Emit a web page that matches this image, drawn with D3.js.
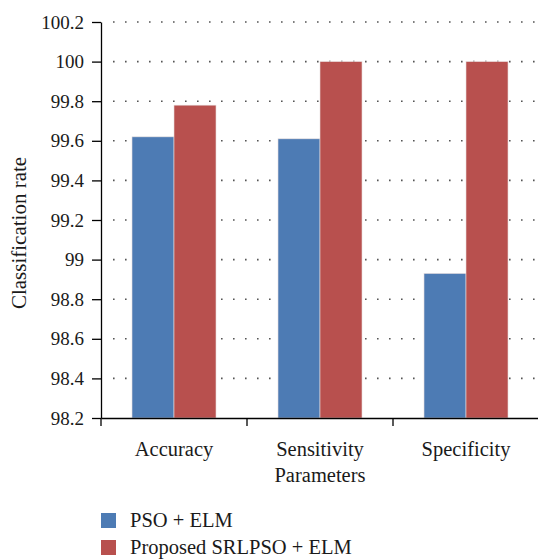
<!DOCTYPE html>
<html><head><meta charset="utf-8">
<script src="https://cdn.jsdelivr.net/npm/d3@7"></script>
<style>body{margin:0;background:#fff}svg{display:block} text{font-family:'Liberation Serif','Times New Roman',serif !important;}</style>
</head><body>
<script>
const categories = ["Accuracy", "Sensitivity", "Specificity"];
const seriesNames = ["PSO + ELM", "Proposed SRLPSO + ELM"];
const psoElm = [99.62, 99.61, 98.93];
const srlpsoElm = [99.78, 100, 100];
const yTicks = [98.2, 98.4, 98.6, 98.8, 99, 99.2, 99.4, 99.6, 99.8, 100, 100.2];
const colors = ["#4d7bb4", "#b8504e"];

const W = 538, H = 559;
const m = {left: 101, right: 0, top: 22, bottom: 141};
const svg = d3.select("body").append("svg").attr("width", W).attr("height", H);

const x = d3.scaleBand().domain(categories).range([m.left, m.left + 438]).paddingInner(0).paddingOuter(0);
const y = d3.scaleLinear().domain([98.2, 100.2]).range([H - m.bottom, m.top]);
const xs = d3.scaleBand().domain([0, 1]).range([0, x.bandwidth()]).paddingInner(0).paddingOuter(0.738);

// grid
svg.append("g").selectAll("line").data(yTicks.slice(1)).join("line")
  .attr("x1", m.left + 12).attr("x2", W).attr("y1", d => y(d)).attr("y2", d => y(d))
  .attr("stroke", "#555").attr("stroke-width", 1.6).attr("stroke-dasharray", "1.6,10.4");

// bars
const data = [psoElm, srlpsoElm];
data.forEach((vals, si) => {
  svg.append("g").selectAll("rect").data(vals).join("rect")
    .attr("x", (d, i) => x(categories[i]) + xs(si))
    .attr("width", xs.bandwidth())
    .attr("y", d => y(d))
    .attr("height", d => y(98.2) - y(d))
    .attr("fill", colors[si])
    .attr("stroke", "#e8dede").attr("stroke-width", 0.6);
});

// y axis
const ya = svg.append("g").attr("transform", `translate(${m.left},0)`)
  .call(d3.axisLeft(y).tickValues(yTicks).tickFormat(d => String(+d.toFixed(1))).tickSizeInner(9).tickSizeOuter(0).tickPadding(8));
ya.attr("font-size", 19).attr("font-family", null);
ya.select(".domain").attr("stroke", "#000").attr("stroke-width", 1.3);
ya.selectAll(".tick line").attr("stroke", "#000").attr("stroke-width", 1.3);
ya.selectAll("text").attr("fill", "#1a1a1a");

// x axis
const xa = svg.append("g").attr("transform", `translate(0,${y(98.2)})`)
  .call(d3.axisBottom(x).tickSizeInner(0).tickSizeOuter(0).tickPadding(23));
xa.attr("font-size", 20.5).attr("font-family", null);
xa.select(".domain").attr("stroke", "#000").attr("stroke-width", 1.3);
xa.selectAll(".tick line").remove();
xa.selectAll("text").attr("fill", "#1a1a1a");
const bounds = [m.left, m.left + x.bandwidth(), m.left + 2 * x.bandwidth()];
xa.append("g").selectAll("line").data(bounds).join("line")
  .attr("x1", d => d).attr("x2", d => d).attr("y1", 0).attr("y2", 8)
  .attr("stroke", "#000").attr("stroke-width", 1.3);

// axis titles
svg.append("text").attr("x", x("Sensitivity") + x.bandwidth() / 2).attr("y", 482)
  .attr("text-anchor", "middle").attr("font-size", 20.5).attr("fill", "#1a1a1a").text("Parameters");
svg.append("text").attr("transform", `translate(26,233) rotate(-90)`)
  .attr("text-anchor", "middle").attr("font-size", 21).attr("fill", "#1a1a1a").text("Classification rate");

// legend
const lg = svg.append("g").selectAll("g").data(seriesNames).join("g")
  .attr("transform", (d, i) => `translate(101,${513 + i * 27})`);
lg.append("rect").attr("width", 15).attr("height", 15).attr("fill", (d, i) => colors[i]);
lg.append("text").attr("x", 29).attr("y", 14).attr("font-size", 20.5).attr("fill", "#1a1a1a").text(d => d);
</script>
</body></html>
